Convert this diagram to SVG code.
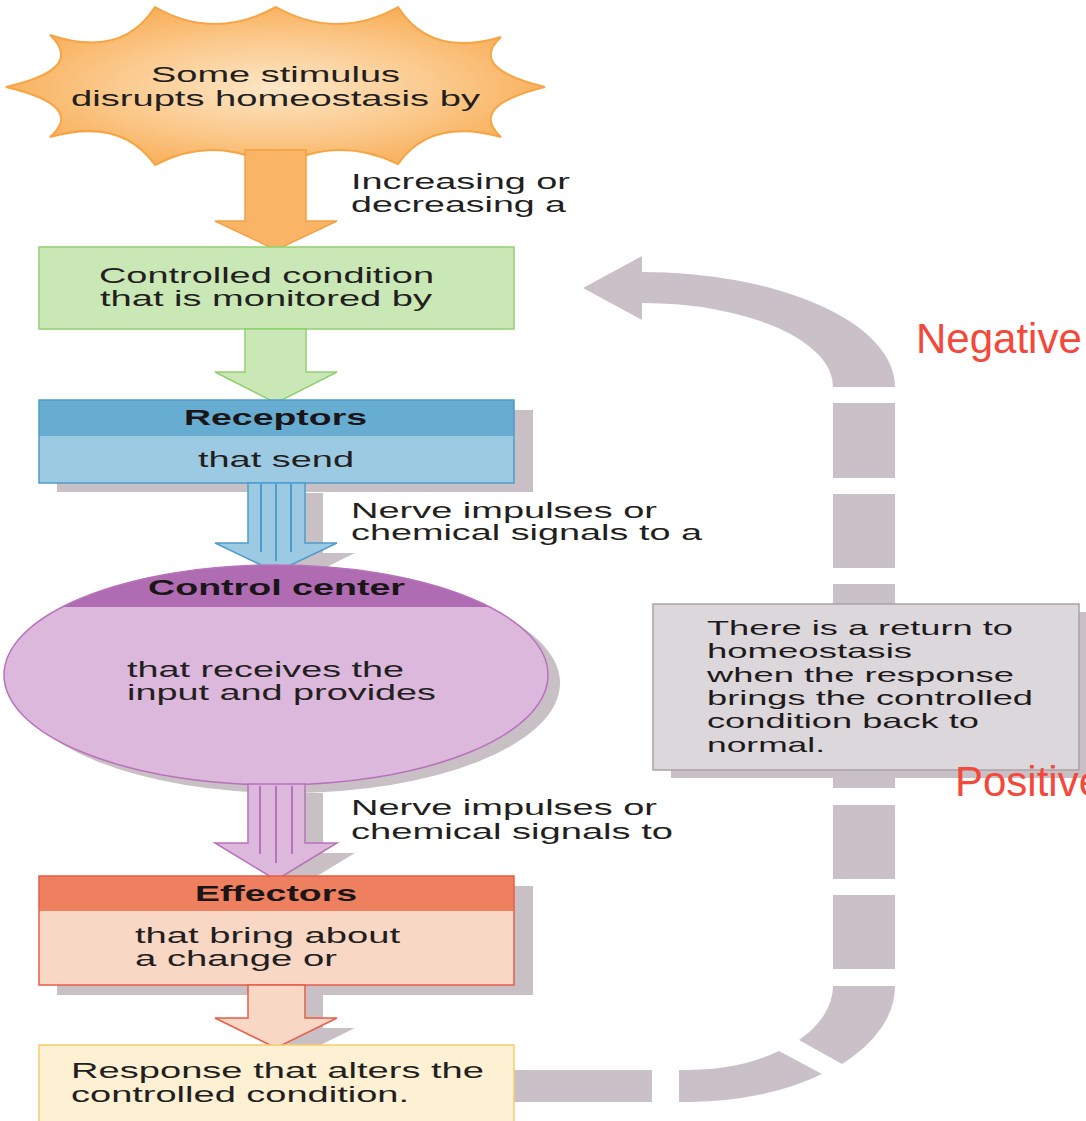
<svg xmlns="http://www.w3.org/2000/svg" width="1086" height="1121" viewBox="0 0 1086 1121">
<style>
  .t { font-family: "Liberation Sans", Arial, sans-serif; font-size: 22px; fill: #231f20; }
  .tb { font-family: "Liberation Sans", Arial, sans-serif; font-size: 22px; font-weight: bold; fill: #1a1618; }
  .tn { font-family: "Liberation Sans", Arial, sans-serif; font-size: 21px; fill: #1e1a1c; }
  .red { font-family: "Liberation Sans", Arial, sans-serif; font-size: 42px; fill: #f4483b; }
  .shadow { fill: #c9c0c6; }
  .loop { fill: #c9c1c7; }
</style>
<defs>
  <radialGradient id="starGrad" cx="50%" cy="50%" r="55%">
    <stop offset="0" stop-color="#fde6c6"/>
    <stop offset="0.55" stop-color="#fbc98c"/>
    <stop offset="1" stop-color="#f8ad55"/>
  </radialGradient>
  <clipPath id="ellClip">
    <ellipse cx="276" cy="675" rx="272" ry="110"/>
  </clipPath>
</defs>
<rect width="1086" height="1121" fill="#ffffff"/>

<!-- loop connector -->
<g id="connectors">
  <g id="feedback-loop" class="loop">
    <path d="M583,288 L642,256 L642,272 A253,115 0 0 1 895,387 L833,387 A191,84 0 0 0 642,303 L642,320 Z"/>
    <rect x="833" y="403" width="62" height="75"/>
    <rect x="833" y="494" width="62" height="74"/>
    <rect x="833" y="584" width="62" height="204"/>
    <rect x="833" y="805" width="62" height="74"/>
    <rect x="833" y="895" width="62" height="74"/>
    <path d="M833,986 A143,84 0 0 1 799,1040 L842,1064 A205,116 0 0 0 895,986 Z"/>
    <path d="M679,1070 L690,1070 A143,84 0 0 0 779,1051 L822,1074 A205,116 0 0 1 690,1102 L679,1102 Z"/>
    <rect x="514" y="1070" width="138" height="32"/>
  </g>
  <!-- arrow shadows -->
  <path class="shadow" d="M266,493 H323 V553 H355 L294,583 L235,553 H266 Z"/>
  <path class="shadow" d="M266,793 H323 V853 H355 L294,890 L235,853 H266 Z"/>
  <path class="shadow" d="M266,995 H323 V1028 H355 L294,1058 L235,1028 H266 Z"/>
</g>

<!-- stimulus -->
<g id="stimulus">
  <path d="M276,7 Q337,41 398,7 Q430.5,58 501,37 Q467,68 545,87 Q467,106 501,137 Q430.5,117.5 398,164 Q337,134 276,168 Q214.5,133.5 155,165 Q121.5,117 50,137 Q86,106 6,87 Q86,69 50,35 Q121.5,59 155,7 Q214.5,41 276,7 Z" fill="url(#starGrad)" stroke="#f6a444" stroke-width="2"/>
  <text class="t" x="151" y="82" textLength="249" lengthAdjust="spacingAndGlyphs">Some stimulus</text>
  <text class="t" x="71" y="106" textLength="409" lengthAdjust="spacingAndGlyphs">disrupts homeostasis by</text>
</g>

<g id="arrow-orange">
  <path d="M245,150 H306 V221 H337 L276,250 L215,221 H245 Z" fill="#f9b466" stroke="#f3a043" stroke-width="1.5"/>
  <text class="t" x="351" y="189" textLength="219" lengthAdjust="spacingAndGlyphs">Increasing or</text>
  <text class="t" x="351" y="212" textLength="215" lengthAdjust="spacingAndGlyphs">decreasing a</text>
</g>

<!-- controlled condition -->
<g id="controlled-condition">
  <rect x="39" y="247" width="475" height="82" fill="#c9e8b5" stroke="#90d072" stroke-width="1.5"/>
  <text class="t" x="99" y="283" textLength="335" lengthAdjust="spacingAndGlyphs">Controlled condition</text>
  <text class="t" x="100" y="306" textLength="332" lengthAdjust="spacingAndGlyphs">that is monitored by</text>
</g>

<g id="arrow-green">
  <path d="M245,329 H306 V372 H337 L276,403 L215,372 H245 Z" fill="#c9e8b5" stroke="#90d072" stroke-width="1.5"/>
</g>

<!-- receptors -->
<g id="receptors">
  <rect class="shadow" x="57" y="410" width="476" height="82"/>
  <rect x="39" y="400" width="475" height="83" fill="#9dcae3"/>
  <rect x="39" y="400" width="475" height="36" fill="#67acd1"/>
  <rect x="39" y="400" width="475" height="83" fill="none" stroke="#4d9ccb" stroke-width="1.5"/>
  <text class="tb" x="184" y="425" textLength="183" lengthAdjust="spacingAndGlyphs">Receptors</text>
  <text class="t" x="198" y="467" textLength="156" lengthAdjust="spacingAndGlyphs">that send</text>
</g>

<g id="arrow-blue">
  <path d="M248,483 H305 V543 H337 L276,572 L215,543 H248 Z" fill="#9dcae3" stroke="#4d9ccb" stroke-width="1.5"/>
  <g stroke="#4d9ccb" stroke-width="2">
    <line x1="261" y1="484" x2="261" y2="552"/>
    <line x1="276" y1="484" x2="276" y2="561"/>
    <line x1="291" y1="484" x2="291" y2="552"/>
  </g>
  <text class="t" x="351" y="518" textLength="306" lengthAdjust="spacingAndGlyphs">Nerve impulses or</text>
  <text class="t" x="351" y="540" textLength="351" lengthAdjust="spacingAndGlyphs">chemical signals to a</text>
</g>

<!-- control center -->
<g id="control-center">
  <ellipse class="shadow" cx="288" cy="683" rx="272" ry="110"/>
  <ellipse cx="276" cy="675" rx="272" ry="110" fill="#dcb8dc"/>
  <rect x="0" y="560" width="560" height="47" fill="#b06cb3" clip-path="url(#ellClip)"/>
  <ellipse cx="276" cy="675" rx="272" ry="110" fill="none" stroke="#b872ba" stroke-width="1.5"/>
  <text class="tb" x="148" y="595" textLength="257" lengthAdjust="spacingAndGlyphs">Control center</text>
  <text class="t" x="127" y="677" textLength="277" lengthAdjust="spacingAndGlyphs">that receives the</text>
  <text class="t" x="127" y="700" textLength="309" lengthAdjust="spacingAndGlyphs">input and provides</text>
</g>

<g id="arrow-purple">
  <path d="M248,784 H305 V843 H337 L276,880 L215,843 H248 Z" fill="#dcb8dc" stroke="#b872ba" stroke-width="1.5"/>
  <g stroke="#b872ba" stroke-width="2">
    <line x1="260" y1="786" x2="260" y2="854"/>
    <line x1="276" y1="786" x2="276" y2="863"/>
    <line x1="292" y1="786" x2="292" y2="854"/>
  </g>
  <text class="t" x="351" y="815" textLength="306" lengthAdjust="spacingAndGlyphs">Nerve impulses or</text>
  <text class="t" x="351" y="839" textLength="322" lengthAdjust="spacingAndGlyphs">chemical signals to</text>
</g>

<!-- effectors -->
<g id="effectors">
  <rect class="shadow" x="57" y="886" width="476" height="109"/>
  <rect x="39" y="876" width="475" height="109" fill="#f9d7c5"/>
  <rect x="39" y="876" width="475" height="35" fill="#ee7f5f"/>
  <rect x="39" y="876" width="475" height="109" fill="none" stroke="#e85c48" stroke-width="1.5"/>
  <text class="tb" x="195" y="901" textLength="162" lengthAdjust="spacingAndGlyphs">Effectors</text>
  <text class="t" x="135" y="943" textLength="265" lengthAdjust="spacingAndGlyphs">that bring about</text>
  <text class="t" x="135" y="966" textLength="202" lengthAdjust="spacingAndGlyphs">a change or</text>
</g>

<g id="arrow-red">
  <path d="M248,985 H305 V1018 H337 L276,1048 L215,1018 H248 Z" fill="#f9d7c5" stroke="#e85c48" stroke-width="1.5"/>
</g>

<!-- response -->
<g id="response">
  <rect x="39" y="1045" width="475" height="90" fill="#fdf0d3" stroke="#f8cc6a" stroke-width="1.5"/>
  <text class="t" x="71" y="1078" textLength="413" lengthAdjust="spacingAndGlyphs">Response that alters the</text>
  <text class="t" x="71" y="1102" textLength="338" lengthAdjust="spacingAndGlyphs">controlled condition.</text>
</g>

<!-- return note -->
<g id="return-note">
  <rect class="shadow" x="671" y="612" width="430" height="166"/>
  <rect x="653" y="604" width="426" height="166" fill="#dcd7da" stroke="#aaa2a8" stroke-width="1.5"/>
  <text class="tn" x="707" y="635" textLength="306" lengthAdjust="spacingAndGlyphs">There is a return to</text>
  <text class="tn" x="707" y="658" textLength="205" lengthAdjust="spacingAndGlyphs">homeostasis</text>
  <text class="tn" x="707" y="682" textLength="307" lengthAdjust="spacingAndGlyphs">when the response</text>
  <text class="tn" x="707" y="705" textLength="326" lengthAdjust="spacingAndGlyphs">brings the controlled</text>
  <text class="tn" x="707" y="728" textLength="272" lengthAdjust="spacingAndGlyphs">condition back to</text>
  <text class="tn" x="707" y="752" textLength="118" lengthAdjust="spacingAndGlyphs">normal.</text>
</g>

<g id="labels">
  <text class="red" x="916" y="353">Negative</text>
  <text class="red" x="955" y="796">Positive</text>
</g>
</svg>
